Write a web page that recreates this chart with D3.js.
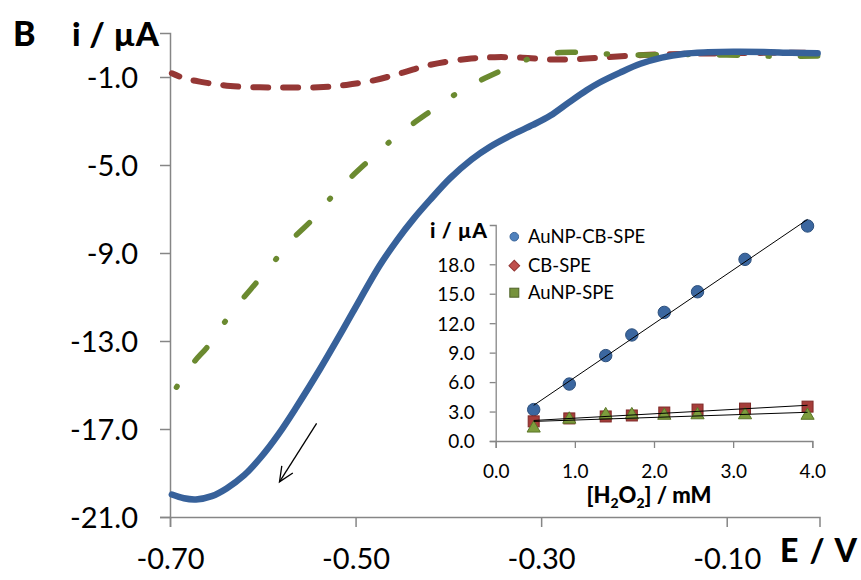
<!DOCTYPE html>
<html>
<head>
<meta charset="utf-8">
<script src="https://cdn.jsdelivr.net/npm/d3@7"></script>
<style>
  html, body { margin: 0; padding: 0; background: #fff; }
  svg { display: block; }
  text { font-family: Lato, "Open Sans", sans-serif; }
</style>
</head>
<body>
<svg id="chart" width="861" height="580"></svg>
<script>
// ---------- Main voltammograms: potential E (V) and current i (µA) ----------
const E_aunpcb = [-0.698, -0.685, -0.672, -0.655, -0.639, -0.620, -0.603, -0.583, -0.564, -0.538, -0.520, -0.503, -0.474, -0.455, -0.4375, -0.420, -0.398, -0.375, -0.355, -0.330, -0.309, -0.290, -0.270, -0.251, -0.237, -0.215, -0.193, -0.170, -0.147, -0.120, -0.093, -0.060, -0.030, -0.002];
const I_aunpcb = [-19.98, -20.15, -20.2, -20.05, -19.7, -19.1, -18.33, -17.23, -16.02, -14.25, -12.95, -11.69, -9.57, -8.4, -7.45, -6.6, -5.6, -4.75, -4.17, -3.6, -3.18, -2.75, -2.15, -1.6, -1.25, -0.8, -0.4, -0.12, 0.05, 0.12, 0.15, 0.14, 0.1, 0.08];

const E_cb = [-0.698, -0.685, -0.668, -0.650, -0.635, -0.603, -0.573, -0.540, -0.510, -0.479, -0.449, -0.420, -0.380, -0.350, -0.320, -0.290, -0.260, -0.230, -0.190, -0.150, -0.100, -0.050, -0.002];
const I_cb = [-0.83, -1.05, -1.21, -1.33, -1.41, -1.47, -1.48, -1.47, -1.36, -1.14, -0.80, -0.45, -0.18, -0.1, -0.12, -0.2, -0.18, -0.1, 0.0, 0.05, 0.08, 0.1, 0.1];

const E_aunp = [-0.693, -0.675, -0.659, -0.641, -0.622, -0.607, -0.586, -0.566, -0.547, -0.528, -0.506, -0.487, -0.465, -0.440, -0.420, -0.395, -0.368, -0.344, -0.317, -0.287, -0.260, -0.230, -0.200, -0.150, -0.100, -0.057, -0.002];
const I_aunp = [-15.1, -14.0, -13.23, -12.14, -11.1, -10.35, -9.29, -8.28, -7.5, -6.55, -5.6, -4.85, -4.01, -3.18, -2.58, -1.85, -1.21, -0.73, -0.23, 0.08, 0.12, 0.05, 0.0, 0.02, 0.0, -0.05, -0.05];

const mainXTicks = [-0.70, -0.50, -0.30, -0.10];
const mainYTicks = [-21, -17, -13, -9, -5, -1];

// Arrow annotation (data coordinates): tail and tip
const arrowTail = [-0.542, -16.74];
const arrowTip = [-0.582, -19.4];

// ---------- Inset calibration: [H2O2] (mM) vs current (µA) ----------
const conc = [0.48, 0.93, 1.39, 1.72, 2.13, 2.55, 3.15, 3.94];
const iAuNPCB = [3.2, 5.8, 8.7, 10.8, 13.1, 15.2, 18.5, 21.9];
const iCB = [2.0, 2.3, 2.5, 2.6, 2.9, 3.2, 3.3, 3.5];
const iAuNP = [1.3, 2.2, 2.65, 2.65, 2.6, 2.65, 2.65, 2.6];
const insetXTicks = [0, 1, 2, 3, 4];
const insetYTicks = [0, 3, 6, 9, 12, 15, 18];
const legendNames = ["AuNP-CB-SPE", "CB-SPE", "AuNP-SPE"];

// ---------- Drawing ----------
const svg = d3.select("#chart");
svg.append("rect").attr("width", 861).attr("height", 580).attr("fill", "#fff");

const axisColor = "#868686";
const blue = "#37619a", red = "#953735", green = "#6b8a30";

const x = d3.scaleLinear().domain([-0.7, 0.0]).range([170, 819.5]);
const y = d3.scaleLinear().domain([-21, 1]).range([517, 33]);

// Axes
const yAxis = d3.axisLeft(y).tickValues(mainYTicks).tickFormat(d => d.toFixed(1)).tickSize(10).tickPadding(22);
const gy = svg.append("g").attr("transform", `translate(${x(-0.7)},0)`).call(yAxis);
const xAxis = d3.axisBottom(x).tickValues(mainXTicks).tickFormat(d => d.toFixed(2)).tickSize(10).tickPadding(20);
const gx = svg.append("g").attr("transform", `translate(0,${y(-21)})`).call(xAxis);

[gx, gy].forEach(g => {
  g.select(".domain").attr("stroke", axisColor).attr("stroke-width", 1.5);
  g.selectAll(".tick line").attr("stroke", axisColor).attr("stroke-width", 1.5);
  g.selectAll(".tick text").attr("fill", "#000").style("font-size", "29px").style("font-family", "Lato, sans-serif");
});
gy.selectAll(".tick text").attr("dy", "0.36em");
gx.selectAll(".tick text").attr("dy", "0.76em");

// Curves
const line = d3.line().x(d => x(d[0])).y(d => y(d[1])).curve(d3.curveCatmullRom.alpha(0.5));
const zip = (a, b) => a.map((v, k) => [v, b[k]]);

svg.append("path").datum(zip(E_cb, I_cb)).attr("d", line)
  .attr("fill", "none").attr("stroke", red).attr("stroke-width", 6)
  .attr("stroke-linecap", "round").attr("stroke-dasharray", "15,15").attr("stroke-dashoffset", 7);

svg.append("path").datum(zip(E_aunp, I_aunp)).attr("d", line)
  .attr("fill", "none").attr("stroke", green).attr("stroke-width", 5.5)
  .attr("stroke-linecap", "round").attr("stroke-dasharray", "1,31,18,31");

svg.append("path").datum(zip(E_aunpcb, I_aunpcb)).attr("d", line)
  .attr("fill", "none").attr("stroke", blue).attr("stroke-width", 6.5)
  .attr("stroke-linecap", "round");

// Arrow
{
  const x1 = x(arrowTail[0]), y1 = y(arrowTail[1]);
  const x2 = x(arrowTip[0]), y2 = y(arrowTip[1]);
  const ang = Math.atan2(y2 - y1, x2 - x1);
  const L = 16, a = 0.42;
  svg.append("line").attr("x1", x1).attr("y1", y1).attr("x2", x2).attr("y2", y2)
    .attr("stroke", "#000").attr("stroke-width", 1.3);
  svg.append("path")
    .attr("d", `M${x2 - L * Math.cos(ang - a)},${y2 - L * Math.sin(ang - a)}L${x2},${y2}L${x2 - L * Math.cos(ang + a)},${y2 - L * Math.sin(ang + a)}`)
    .attr("fill", "none").attr("stroke", "#000").attr("stroke-width", 1.3);
}

// Titles
svg.append("text").attr("x", 13).attr("y", 46).text("B")
  .style("font-size", "34px").style("font-weight", "900");
svg.append("text").attr("x", 72).attr("y", 46).text("i / µA")
  .attr("textLength", 87).attr("lengthAdjust", "spacing")
  .style("font-size", "33px").style("font-weight", "900");
svg.append("text").attr("x", 780).attr("y", y(-21)).attr("dy", "1.42em").text("E / V")
  .attr("textLength", 77).attr("lengthAdjust", "spacing")
  .style("font-size", "32px").style("font-weight", "900");

// ---------- Inset ----------
const xi = d3.scaleLinear().domain([0, 4]).range([495.7, 812.3]);
const yi = d3.scaleLinear().domain([0, 22]).range([441, 225]);

const giy = svg.append("g").attr("transform", `translate(${xi(0)},0)`)
  .call(d3.axisLeft(yi).tickValues(insetYTicks).tickFormat(d => d.toFixed(1)).tickSize(6).tickPadding(15));
const gix = svg.append("g").attr("transform", `translate(0,${yi(0)})`)
  .call(d3.axisBottom(xi).tickValues(insetXTicks).tickFormat(d => d.toFixed(1)).tickSize(7).tickPadding(14));
[gix, giy].forEach(g => {
  g.select(".domain").attr("stroke", axisColor).attr("stroke-width", 1.3);
  g.selectAll(".tick line").attr("stroke", axisColor).attr("stroke-width", 1.3);
  g.selectAll(".tick text").attr("fill", "#000").style("font-size", "19px").style("font-family", "Lato, sans-serif");
});
giy.selectAll(".tick text").attr("dy", "0.36em");
gix.selectAll(".tick text").attr("dy", "0.85em");

// markers
svg.append("g").selectAll("circle").data(zip(conc, iAuNPCB)).join("circle")
  .attr("cx", d => xi(d[0])).attr("cy", d => yi(d[1])).attr("r", 6.2)
  .attr("fill", "#3b67a0").attr("stroke", "#2c4f7c").attr("stroke-width", 1);
svg.append("g").selectAll("rect").data(zip(conc, iCB)).join("rect")
  .attr("x", d => xi(d[0]) - 5.5).attr("y", d => yi(d[1]) - 5.5).attr("width", 11).attr("height", 11)
  .attr("fill", "#a63d3a").attr("stroke", "#7f2a28").attr("stroke-width", 1);
const tri = d3.symbol().type(d3.symbolTriangle).size(75);
svg.append("g").selectAll("path").data(zip(conc, iAuNP)).join("path")
  .attr("d", tri).attr("transform", d => `translate(${xi(d[0])},${yi(d[1])})`)
  .attr("fill", "#7d9c3d").attr("stroke", "#5b7628").attr("stroke-width", 1);

// linear regression trend lines
function fit(xs, ys) {
  const mx = d3.mean(xs), my = d3.mean(ys);
  let sxy = 0, sxx = 0;
  xs.forEach((v, k) => { sxy += (v - mx) * (ys[k] - my); sxx += (v - mx) * (v - mx); });
  const m = sxy / sxx;
  return [m, my - m * mx];
}
[iAuNPCB, iCB, iAuNP].forEach(ys => {
  const [m, b] = fit(conc, ys);
  const x0 = d3.min(conc), x1 = d3.max(conc);
  svg.append("line").attr("x1", xi(x0)).attr("y1", yi(m * x0 + b))
    .attr("x2", xi(x1)).attr("y2", yi(m * x1 + b))
    .attr("stroke", "#000").attr("stroke-width", 1);
});

// inset labels
svg.append("text").attr("x", 430).attr("y", 238).text("i / µA")
  .attr("textLength", 57).attr("lengthAdjust", "spacing")
  .style("font-size", "21px").style("font-weight", "900");
const xl = svg.append("text").attr("x", 649).attr("y", 503).attr("text-anchor", "middle")
  .style("font-size", "22px").style("font-weight", "900");
xl.append("tspan").text("[H");
xl.append("tspan").text("2").attr("dy", 5).style("font-size", "14px");
xl.append("tspan").text("O").attr("dy", -5);
xl.append("tspan").text("2").attr("dy", 5).style("font-size", "14px");
xl.append("tspan").text("] / mM").attr("dy", -5);

// legend
const lg = svg.append("g");
const ly = [236.7, 265.7, 292.7];
lg.append("circle").attr("cx", 514.3).attr("cy", ly[0]).attr("r", 4.3)
  .attr("fill", "#4f81bd").attr("stroke", "#3a659a").attr("stroke-width", 1);
lg.append("rect").attr("x", -3.8).attr("y", -3.8).attr("width", 7.6).attr("height", 7.6)
  .attr("transform", `translate(514.3,${ly[1]}) rotate(45)`)
  .attr("fill", "#c0504d").attr("stroke", "#943634").attr("stroke-width", 1);
lg.append("rect").attr("x", 514.3 - 4.5).attr("y", ly[2] - 4.5).attr("width", 9).attr("height", 9)
  .attr("fill", "#76923c").attr("stroke", "#4f6228").attr("stroke-width", 1);
legendNames.forEach((n, k) => {
  lg.append("text").attr("x", 528).attr("y", ly[k]).attr("dy", "0.36em").text(n)
    .style("font-size", "18.5px").attr("fill", "#000");
});
</script>
</body>
</html>
